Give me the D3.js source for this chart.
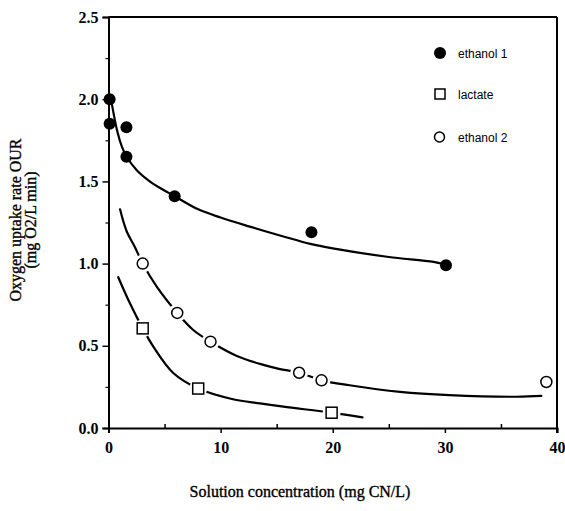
<!DOCTYPE html>
<html>
<head>
<meta charset="utf-8">
<script src="https://cdn.jsdelivr.net/npm/d3@7"></script>
<style>
html,body{margin:0;padding:0;background:#fff;}
svg{display:block;}
</style>
</head>
<body>
<svg id="chart" width="565" height="511"></svg>
<script>
// ---- data ----
const xTicks = [0, 10, 20, 30, 40];
const yTicks = [0.0, 0.5, 1.0, 1.5, 2.0, 2.5];
const xMinorTicks = [5, 15, 25, 35];
const yMinorTicks = [0.25, 0.75, 1.25, 1.75, 2.25];

const seriesNames = ["ethanol 1", "lactate", "ethanol 2"];

const ethanol1X = [0.1, 0.1, 1.6, 1.6, 5.9, 18.1, 30.1];
const ethanol1Y = [2.0, 1.85, 1.83, 1.65, 1.41, 1.19, 0.99];

const lactateX = [3.05, 8.0, 19.9];
const lactateY = [0.606, 0.24, 0.093];

const ethanol2X = [3.05, 6.13, 9.1, 17.0, 19.0, 39.05];
const ethanol2Y = [1.0, 0.70, 0.525, 0.336, 0.29, 0.28];

// fitted curves drawn in the figure
const ethanol1CurveX = [0.3, 0.8, 1.2, 1.62, 2.5, 3.5, 4.6, 5.9, 8, 10, 12.6, 15.6, 18, 20, 25, 29, 30.1];
const ethanol1CurveY = [1.97, 1.80, 1.71, 1.65, 1.57, 1.51, 1.46, 1.41, 1.33, 1.28, 1.225, 1.165, 1.12, 1.093, 1.04, 1.01, 0.99];

const ethanol2CurveX = [1.03, 1.6, 2.36, 3.05, 4.3, 6.13, 7.56, 9.1, 11.4, 13.5, 15.2, 17.0, 19.0, 21.5, 26, 30.4, 36.4, 38.6];
const ethanol2CurveY = [1.33, 1.2, 1.10, 1.0, 0.86, 0.70, 0.596, 0.525, 0.44, 0.39, 0.36, 0.336, 0.29, 0.26, 0.22, 0.20, 0.19, 0.195];

const lactateCurveX = [0.87, 1.9, 3.05, 4.0, 5.8, 8.0, 11.1, 13.5, 15.6, 19.9, 22.65];
const lactateCurveY = [0.917, 0.76, 0.606, 0.495, 0.333, 0.24, 0.175, 0.15, 0.13, 0.093, 0.065];

// ---- drawing ----
const svg = d3.select("#chart");
const x = d3.scaleLinear().domain([0, 40]).range([108.5, 557]);
const y = d3.scaleLinear().domain([0, 2.5]).range([428, 17]);

const serif = "'Liberation Serif', 'Times New Roman', serif";
const sans = "'Liberation Sans', Arial, Helvetica, sans-serif";

// frame (top & right)
svg.append("line").attr("x1", x(0)).attr("x2", x(40)).attr("y1", y(2.5)).attr("y2", y(2.5))
  .attr("stroke", "#000").attr("stroke-width", 2);
svg.append("line").attr("x1", x(40)).attr("x2", x(40)).attr("y1", y(2.5)).attr("y2", y(0) + 5)
  .attr("stroke", "#000").attr("stroke-width", 2);

// x axis
const xAxis = d3.axisBottom(x).tickValues(xTicks).tickFormat(d3.format("d")).tickSize(5).tickPadding(9);
const gx = svg.append("g").attr("transform", `translate(0,${y(0)})`).call(xAxis);
gx.select(".domain").attr("stroke-width", 2);
gx.selectAll(".tick line").attr("stroke-width", 1.5);
gx.selectAll("text").attr("font-family", serif).attr("font-size", 16).attr("font-weight", "bold").attr("fill", "#000");
const xMinor = d3.axisTop(x).tickValues(xMinorTicks).tickFormat("").tickSize(4);
const gxm = svg.append("g").attr("transform", `translate(0,${y(0)})`).call(xMinor);
gxm.select(".domain").remove();
gxm.selectAll(".tick line").attr("stroke-width", 1.5);

// y axis
const yAxis = d3.axisLeft(y).tickValues(yTicks).tickFormat(d3.format(".1f")).tickSize(6).tickPadding(4);
const gy = svg.append("g").attr("transform", `translate(${x(0)},0)`).call(yAxis);
gy.select(".domain").attr("stroke-width", 2);
gy.selectAll(".tick line").attr("stroke-width", 1.5);
gy.selectAll("text").attr("font-family", serif).attr("font-size", 16).attr("font-weight", "bold").attr("fill", "#000");
const yMinor = d3.axisLeft(y).tickValues(yMinorTicks).tickFormat("").tickSize(3);
const gym = svg.append("g").attr("transform", `translate(${x(0)},0)`).call(yMinor);
gym.select(".domain").remove();
gym.selectAll(".tick line").attr("stroke-width", 1.2);

// curves
const line = d3.line().x(d => x(d[0])).y(d => y(d[1])).curve(d3.curveCatmullRom.alpha(0.5));
function zip(a, b) { return a.map((v, i) => [v, b[i]]); }
[[ethanol1CurveX, ethanol1CurveY], [ethanol2CurveX, ethanol2CurveY], [lactateCurveX, lactateCurveY]]
  .forEach(([cx, cy]) => {
    svg.append("path").datum(zip(cx, cy)).attr("d", line)
      .attr("fill", "none").attr("stroke", "#000").attr("stroke-width", 2.2)
      .attr("stroke-linecap", "round");
  });

// white halos around open markers (gaps in the curves)
const haloPts = zip(ethanol2X, ethanol2Y).concat(zip(lactateX, lactateY));
svg.append("g").selectAll("circle").data(haloPts).join("circle")
  .attr("cx", d => x(d[0])).attr("cy", d => y(d[1])).attr("r", 9).attr("fill", "#fff");

// markers
svg.append("g").selectAll("circle").data(zip(ethanol1X, ethanol1Y)).join("circle")
  .attr("cx", d => x(d[0])).attr("cy", d => y(d[1])).attr("r", 6).attr("fill", "#000");
svg.append("g").selectAll("circle").data(zip(ethanol2X, ethanol2Y)).join("circle")
  .attr("cx", d => x(d[0])).attr("cy", d => y(d[1])).attr("r", 5.5)
  .attr("fill", "#fff").attr("stroke", "#000").attr("stroke-width", 1.5);
svg.append("g").selectAll("rect").data(zip(lactateX, lactateY)).join("rect")
  .attr("x", d => x(d[0]) - 5.5).attr("y", d => y(d[1]) - 5.5).attr("width", 11).attr("height", 11)
  .attr("fill", "#fff").attr("stroke", "#000").attr("stroke-width", 1.5);

// legend
const legY = [53, 94, 137];
const leg = svg.append("g");
leg.append("circle").attr("cx", 440).attr("cy", legY[0]).attr("r", 6).attr("fill", "#000");
leg.append("rect").attr("x", 435).attr("y", legY[1] - 5).attr("width", 10).attr("height", 10)
  .attr("fill", "#fff").attr("stroke", "#000").attr("stroke-width", 1.5);
leg.append("circle").attr("cx", 439.5).attr("cy", legY[2]).attr("r", 5)
  .attr("fill", "#fff").attr("stroke", "#000").attr("stroke-width", 1.5);
leg.selectAll("text").data(seriesNames).join("text")
  .attr("x", 458).attr("y", (d, i) => legY[i] + 4.5)
  .attr("font-family", sans).attr("font-size", 12).attr("fill", "#000").text(d => d);

// axis titles
svg.append("text").attr("x", 300).attr("y", 497).attr("text-anchor", "middle")
  .attr("font-family", serif).attr("font-size", 16).attr("fill", "#000")
  .attr("stroke", "#000").attr("stroke-width", 0.35)
  .text("Solution concentration (mg CN/L)");
const yt = svg.append("text").attr("transform", "translate(21,220) rotate(-90)")
  .attr("text-anchor", "middle").attr("font-family", serif).attr("font-size", 16)
  .attr("stroke", "#000").attr("stroke-width", 0.35).attr("fill", "#000");
yt.append("tspan").attr("x", 0).attr("dy", 0).text("Oxygen uptake rate OUR");
yt.append("tspan").attr("x", 0).attr("dy", 15).text("(mg O2/L min)");
</script>
</body>
</html>
